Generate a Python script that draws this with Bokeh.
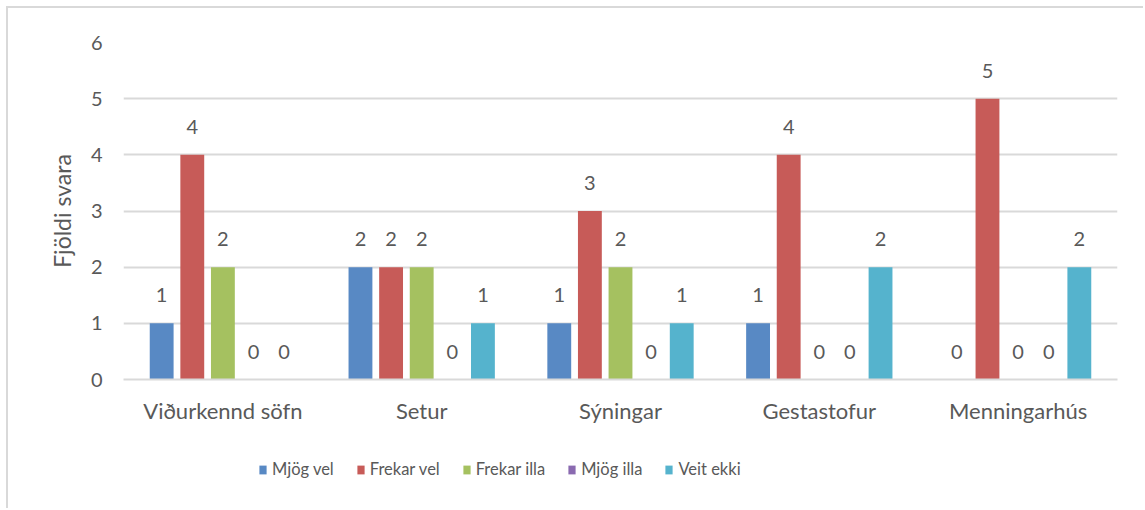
from bokeh.plotting import figure
from bokeh.layouts import column
from bokeh.models import (ColumnDataSource, FactorRange, Range1d, LabelSet, Legend, LegendItem,
                          SingleIntervalTicker)
from bokeh.core.properties import value
from bokeh.transform import dodge
from bokeh.embed import file_html
from bokeh.resources import INLINE

categories = ["Viðurkennd söfn", "Setur", "Sýningar", "Gestastofur", "Menningarhús"]
series_names = ["Mjög vel", "Frekar vel", "Frekar illa", "Mjög illa", "Veit ekki"]
mjog_vel = [1, 2, 1, 1, 0]
frekar_vel = [4, 2, 3, 4, 5]
frekar_illa = [2, 2, 2, 0, 0]
mjog_illa = [0, 0, 0, 0, 0]
veit_ekki = [0, 1, 1, 2, 2]
colors = ["#5889c4", "#c75b58", "#a5c160", "#8a6ab0", "#55b3cd"]

FONT = "Lato"
TXT = "#595959"
GRID = "#d9d9d9"

p = figure(x_range=FactorRange(*categories, range_padding=0), y_range=Range1d(0, 6),
           width=1135, height=426, output_backend="svg", toolbar_location=None,
           min_border_left=115, min_border_right=26, min_border_top=34, min_border_bottom=55)
p.outline_line_color = None

all_vals = [mjog_vel, frekar_vel, frekar_illa, mjog_illa, veit_ekki]
offsets = [-0.308, -0.154, 0.0, 0.154, 0.308]
for name, vals, off, col in zip(series_names, all_vals, offsets, colors):
    src = ColumnDataSource(dict(cat=categories, val=vals, lab=[str(v) for v in vals]))
    p.vbar(x=dodge("cat", off, range=p.x_range), top="val", width=0.12, source=src,
           fill_color=col, line_color=None)
    ls = LabelSet(x=dodge("cat", off, range=p.x_range), y="val", text="lab", source=src,
                  text_align="center", text_baseline="alphabetic", y_offset=21,
                  text_font=value(FONT), text_font_size=value("20px"), text_color=TXT)
    p.add_layout(ls)

p.yaxis.ticker = SingleIntervalTicker(interval=1)
p.ygrid.grid_line_color = GRID
p.ygrid.grid_line_width = 2
p.xgrid.grid_line_color = None
p.yaxis.axis_line_color = None
p.yaxis.major_tick_line_color = None
p.yaxis.minor_tick_line_color = None
p.yaxis.major_label_standoff = 15
p.yaxis.major_label_text_font = FONT
p.yaxis.major_label_text_font_size = "20px"
p.yaxis.major_label_text_color = TXT
p.yaxis.axis_label = "Fjöldi svara"
p.yaxis.axis_label_text_font = FONT
p.yaxis.axis_label_text_font_size = "23px"
p.yaxis.axis_label_text_font_style = "normal"
p.yaxis.axis_label_text_color = TXT
p.yaxis.axis_label_standoff = 12

p.xaxis.axis_line_color = GRID
p.xaxis.axis_line_width = 2
p.xaxis.major_tick_line_color = None
p.xaxis.minor_tick_line_color = None
p.xaxis.major_label_standoff = 11
p.xaxis.major_label_text_font = FONT
p.xaxis.major_label_text_font_size = "22px"
p.xaxis.major_label_text_color = TXT

# legend figure (its frame is aligned with the main frame by the column layout)
p2 = figure(width=1135, height=74, output_backend="svg", toolbar_location=None,
            min_border=0, x_range=Range1d(0, 1), y_range=Range1d(0, 1))
p2.xaxis.visible = False
p2.yaxis.visible = False
p2.xgrid.visible = False
p2.ygrid.visible = False
p2.outline_line_color = None
p2.border_fill_color = "white"
items = []
for name, col in zip(series_names, colors):
    r = p2.vbar(x=[0.5], bottom=[0], top=[0], width=0.0, fill_color=col, line_color=None)
    items.append(LegendItem(label=name, renderers=[r]))
legend = Legend(items=items, orientation="horizontal", location=(135, 29),
                label_text_font=FONT, label_text_font_size="16.5px", label_text_color=TXT,
                glyph_width=9, glyph_height=11, label_standoff=5, spacing=22,
                padding=0, margin=0, border_line_color=None, background_fill_alpha=0)
p2.add_layout(legend, "center")

layout = column(p, p2, spacing=0)
layout.styles = {"margin": "6px 0 0 6px", "border-top": "2px solid #d9d9d9",
                 "border-left": "2px solid #d9d9d9"}

open("out.html", "w").write(file_html(layout, INLINE))
